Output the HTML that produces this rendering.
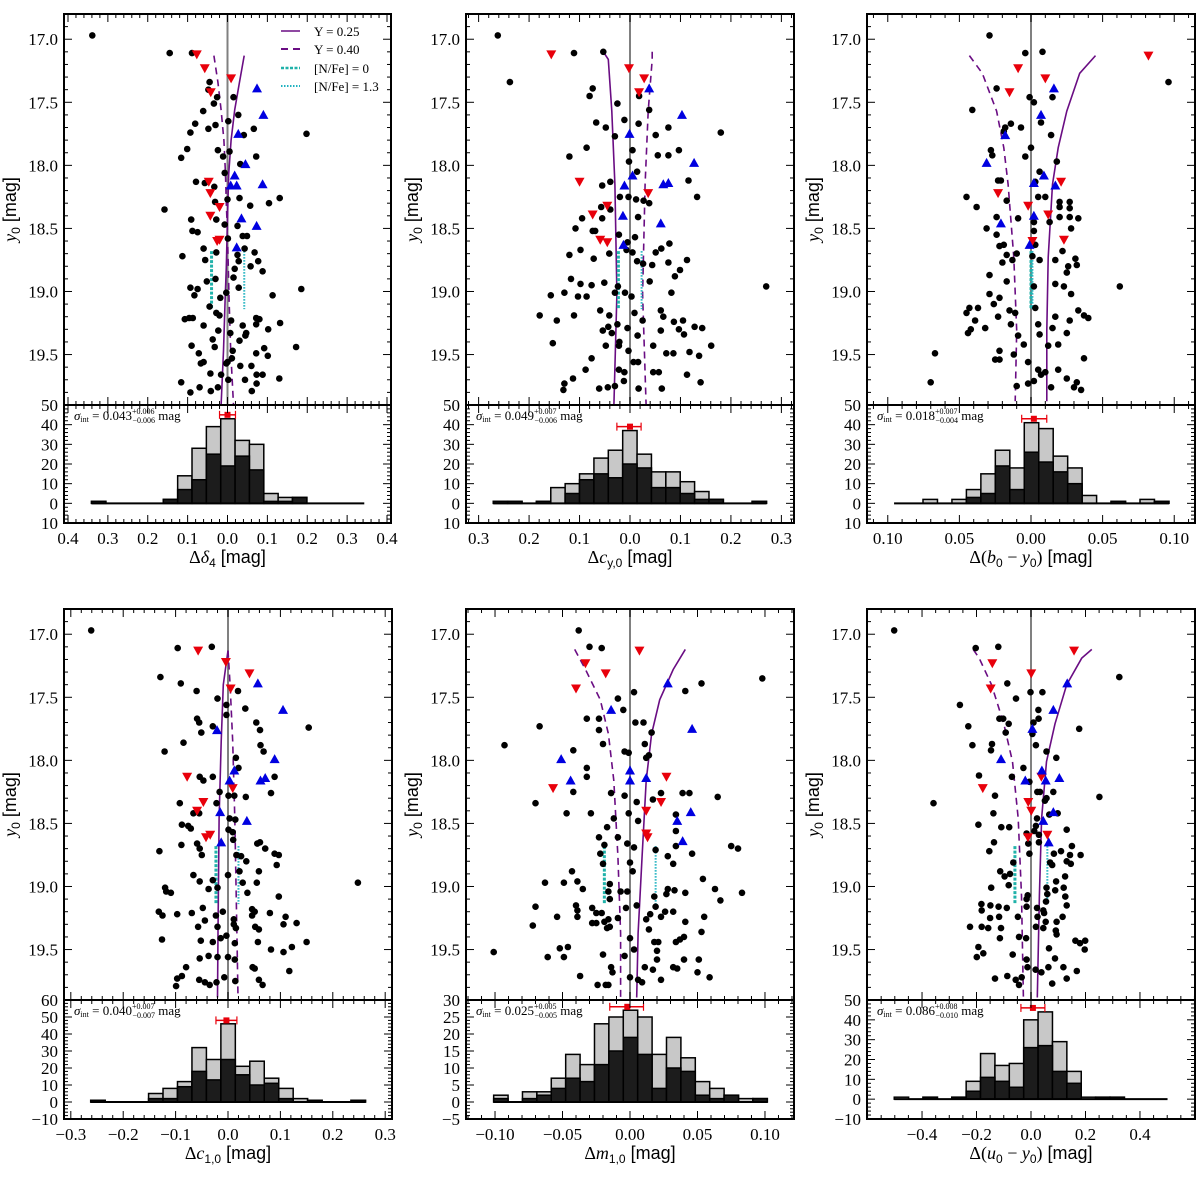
<!DOCTYPE html>
<html><head><meta charset="utf-8"><style>
html,body{margin:0;padding:0;background:#fff;}
svg{display:block;}
</style></head><body>
<svg id="fig" xmlns="http://www.w3.org/2000/svg" width="1200" height="1193" viewBox="0 0 1200 1193"></svg>
<script>
// ---------- DATA ----------
const yTickVals=[17.0,17.5,18.0,18.5,19.0,19.5];
const yTickLabels=["17.0","17.5","18.0","18.5","19.0","19.5"];
const modelLegend=["Y = 0.25","Y = 0.40","[N/Fe] = 0","[N/Fe] = 1.3"];

// Panel 1 (delta4)
const p1Dots=[-0.339,16.97,-0.145,17.11,-0.089,17.11,-0.045,17.34,-0.048,17.40,-0.026,17.46,-0.034,17.51,-0.061,17.57,-0.081,17.67,-0.048,17.71,-0.030,17.68,-0.093,17.74,-0.101,17.87,-0.116,17.94,-0.024,17.88,-0.011,17.93,0.002,17.65,0.015,17.46,0.027,17.60,0.041,17.76,0.066,17.71,0.072,17.93,0.032,17.99,0.005,17.89,-0.007,18.06,0.198,17.75,-0.079,18.13,-0.057,18.14,-0.033,18.17,0.0,18.27,0.030,18.26,0.057,18.32,0.104,18.30,0.131,18.26,-0.031,18.29,-0.158,18.35,-0.091,18.43,-0.088,18.52,-0.075,18.53,-0.028,18.43,-0.007,18.47,0.025,18.48,0.038,18.56,0.049,18.56,0.001,18.58,-0.06,18.66,-0.056,18.75,-0.113,18.72,-0.028,18.69,0.025,18.71,0.028,18.76,0.043,18.66,0.068,18.69,0.077,18.76,0.058,18.80,0.088,18.84,0.018,18.82,0.015,18.89,0.028,18.97,0.113,19.03,-0.093,18.97,-0.075,18.98,-0.083,19.03,-0.052,18.92,-0.030,18.90,-0.018,19.05,0.185,18.98,-0.003,19.01,
-0.096,19.21,-0.107,19.22,-0.087,19.21,-0.06,19.27,-0.028,19.17,-0.02,19.19,-0.023,19.31,-0.037,19.38,-0.045,19.12,0.009,19.23,0.038,19.27,0.047,19.33,0.072,19.21,0.08,19.22,0.072,19.26,0.102,19.30,0.132,19.25,0.101,19.51,0.072,19.49,0.092,19.45,0.045,19.35,0.03,19.39,0.007,19.33,0.011,19.53,0.032,19.59,0.06,19.59,0.073,19.66,0.088,19.66,0.044,19.70,-0.003,19.57,-0.016,19.66,-0.024,19.76,-0.042,19.79,-0.07,19.76,-0.093,19.80,-0.116,19.72,-0.043,19.65,-0.072,19.49,-0.09,19.43,-0.032,19.44,-0.067,19.57,-0.06,19.56,0.061,19.79,0.073,19.73,0.13,19.69,0.172,19.44,0,19.56,0.002,19.70,0.013,19.47];
const p1Red=[-0.077,17.12,-0.057,17.23,-0.042,17.42,0.009,17.31,-0.047,18.13,-0.043,18.22,-0.02,18.33,-0.043,18.40,-0.026,18.60,-0.02,18.59];
const p1Blue=[0.074,17.39,0.09,17.60,0.027,17.75,0.045,17.99,0.018,18.08,0.023,18.16,0.008,18.16,0.088,18.15,0.035,18.42,0.073,18.48,0.023,18.65];
const p1ModelY=[17.13,17.34,17.56,17.8,18.07,18.3,18.54,18.81,19.07,19.47,19.9];
const p1Y25=[0.042,0.03,0.018,0.009,0.003,0.001,-0.001,-0.003,-0.006,-0.01,-0.016];
const p1Y40=[-0.034,-0.024,-0.016,-0.009,-0.005,-0.003,0.0,0.002,0.004,0.008,0.015];
const p1Cyan=[-0.04,0.042];
const p1Gray=[1,0,0,0,0,2,14,28,39,43,32,30,5,3,3,0,0,0,0];
const p1Black=[1,0,0,0,0,2,7,12,25,19,24,17,1,1,3,0,0,0,0];
const p1Err=[0.0,45,-0.02,0.02];

// Panel 2 (cy0)
const p2Dots=[-0.262,16.97,-0.111,17.11,-0.053,17.10,-0.238,17.34,-0.074,17.39,-0.080,17.45,-0.025,17.51,0.018,17.45,0.038,17.56,-0.067,17.66,-0.048,17.70,-0.011,17.64,0.017,17.67,-0.030,17.77,0.051,17.76,0.076,17.70,0.180,17.74,-0.086,17.86,-0.120,17.93,0.005,17.88,0.055,17.92,0.076,17.92,0.097,17.88,-0.002,17.97,0.014,18.05,-0.039,18.13,-0.055,18.16,0.116,18.12,-0.020,18.25,-0.003,18.25,0.012,18.27,0.027,18.28,0.038,18.30,0.133,18.25,-0.057,18.33,-0.039,18.35,-0.095,18.42,-0.055,18.42,0.016,18.41,-0.074,18.52,-0.069,18.52,-0.108,18.50,-0.022,18.55,-0.005,18.61,0.010,18.57,0.078,18.62,-0.098,18.67,-0.120,18.71,-0.072,18.74,-0.041,18.70,-0.007,18.67,0.005,18.69,0.014,18.76,0.026,18.78,0.051,18.69,0.062,18.66,0.076,18.77,0.113,18.75,0.044,18.79,0.099,18.83,0.089,18.88,0.039,18.92,-0.117,18.90,-0.098,18.94,-0.076,18.95,-0.051,18.93,-0.024,18.96,-0.030,19.01,-0.010,19.01,0.003,19.04,0.082,19.01,-0.157,19.03,-0.130,19.01,-0.103,19.04,-0.086,19.04,-0.111,19.19,-0.059,19.15,-0.041,19.19,-0.179,19.19,-0.145,19.23,0.009,19.17,0.025,19.23,0.061,19.15,0.066,19.20,0.087,19.24,0.105,19.23,-0.043,19.28,-0.025,19.26,-0.054,19.31,-0.036,19.33,-0.021,19.40,-0.005,19.29,0.015,19.35,0.061,19.31,0.097,19.30,0.107,19.34,0.128,19.28,0.143,19.29,-0.153,19.41,-0.048,19.43,-0.022,19.43,-0.003,19.47,0.046,19.43,0.161,19.43,0.072,19.49,0.086,19.49,0.118,19.48,0.137,19.51,-0.076,19.53,0.007,19.56,0.016,19.56,-0.088,19.62,-0.022,19.62,-0.011,19.64,0.046,19.64,0.057,19.64,0.113,19.66,-0.113,19.69,-0.130,19.73,-0.132,19.78,-0.061,19.77,-0.044,19.76,-0.030,19.75,-0.012,19.71,0.017,19.77,0.063,19.77,0.140,19.72,0.270,18.96];
const p2Red=[-0.156,17.12,-0.002,17.23,0.028,17.31,0.018,17.42,-0.100,18.13,0.036,18.22,-0.045,18.32,-0.074,18.39,-0.059,18.59,-0.045,18.61];
const p2Blue=[0.038,17.39,0.103,17.60,-0.001,17.75,0.127,17.98,0.005,18.08,-0.011,18.16,0.066,18.15,0.076,18.14,-0.014,18.40,0.061,18.46,-0.013,18.63];
const p2ModelY=[17.10,17.16,17.57,18.15,19.02,19.90];
const p2Y25=[-0.053,-0.043,-0.036,-0.030,-0.026,-0.032];
const p2Y40=[0.044,0.044,0.036,0.030,0.025,0.032];
const p2Cyan=[-0.023,0.023];
const p2Gray=[1,1,0,1,8,10,15,23,27,37,25,16,16,11,6,2,0,0,1];
const p2Black=[1,1,0,1,0,5,12,15,13,20,18,8,8,5,2,2,0,0,1];
const p2Err=[0.0,39,-0.026,0.022];

// Panel 3 (b0-y0)
const p3Dots=[-0.029,16.97,-0.004,17.11,0.008,17.10,0.096,17.34,-0.024,17.39,-0.001,17.46,0.002,17.50,0.015,17.46,-0.041,17.56,-0.014,17.67,-0.007,17.70,-0.018,17.70,-0.019,17.73,0.007,17.66,0.014,17.76,0.0,17.86,-0.028,17.88,-0.027,17.92,-0.004,17.93,0.018,17.97,0.006,18.05,0.003,18.13,-0.023,18.12,-0.021,18.12,0.010,18.25,0.005,18.25,-0.045,18.25,-0.038,18.33,-0.017,18.28,0.020,18.29,0.027,18.29,0.020,18.33,0.027,18.34,-0.024,18.41,-0.024,18.55,-0.031,18.50,-0.009,18.42,0.002,18.45,0.002,18.52,0.013,18.45,0.020,18.41,0.027,18.41,0.033,18.42,0.028,18.50,-0.022,18.64,-0.019,18.63,0.003,18.63,0.022,18.68,-0.017,18.71,-0.010,18.70,0.001,18.72,0.017,18.75,0.031,18.74,0.032,18.79,-0.020,18.77,-0.013,18.75,0.006,18.75,0.026,18.80,0.025,18.85,-0.029,18.87,-0.017,18.92,0.002,18.96,0.017,18.94,0.023,18.96,0.028,19.02,-0.029,19.02,-0.026,19.10,-0.037,19.13,-0.022,19.05,0.003,19.13,-0.015,19.15,-0.011,19.17,0.017,19.20,0.027,19.23,0.033,19.15,0.037,19.19,0.040,19.21,-0.045,19.17,-0.043,19.13,-0.039,19.23,-0.023,19.20,-0.014,19.26,-0.044,19.33,-0.042,19.30,-0.032,19.29,0.005,19.26,0.006,19.34,0.015,19.29,0.025,19.33,0.019,19.42,-0.009,19.35,-0.005,19.42,0.012,19.43,-0.022,19.47,-0.022,19.54,-0.025,19.54,-0.012,19.50,-0.002,19.56,0.005,19.62,0.007,19.66,0.010,19.64,0.019,19.62,0.025,19.69,0.037,19.53,0.032,19.72,0.035,19.78,-0.010,19.75,-0.002,19.73,0.002,19.71,0.014,19.76,0.030,19.76,-0.070,19.72,-0.067,19.49,0.062,18.96];
const p3Red=[0.082,17.13,-0.009,17.23,0.010,17.31,-0.015,17.42,0.021,18.13,-0.023,18.22,-0.002,18.32,0.012,18.39,0.001,18.60,0.023,18.59];
const p3Blue=[0.016,17.39,0.007,17.60,-0.018,17.76,-0.031,17.98,0.009,18.08,0.002,18.14,0.017,18.16,0.002,18.40,-0.021,18.46,-0.001,18.63];
const p3ModelY=[17.13,17.27,17.57,17.86,18.15,18.73,19.31,19.87];
const p3Y25=[0.045,0.034,0.025,0.019,0.015,0.012,0.011,0.011];
const p3Y40=[-0.043,-0.034,-0.024,-0.019,-0.016,-0.012,-0.010,-0.011];
const p3Cyan=[0.0,0.001];
const p3Gray=[0,0,2,0,2,7,15,27,18,41,38,24,18,4,0,1,0,2,1];
const p3Black=[0,0,0,0,0,3,5,19,7,26,21,16,10,0,0,1,0,0,1];
const p3Err=[0.002,43,-0.0065,0.011];

// Panel 4 (c1,0)
const p4Dots=[-0.261,16.97,-0.096,17.11,-0.031,17.10,-0.129,17.34,-0.090,17.39,-0.060,17.45,-0.020,17.51,0.019,17.45,0.033,17.59,-0.059,17.67,-0.055,17.70,-0.051,17.78,-0.029,17.73,0.054,17.70,0.061,17.76,0.062,17.88,0.068,17.93,-0.085,17.86,-0.121,17.93,0.015,17.98,0.020,18.06,-0.003,17.56,-0.003,17.64,-0.054,18.13,-0.047,18.16,-0.029,18.13,0.089,18.13,0.082,18.26,-0.016,18.25,0.001,18.28,0.012,18.28,-0.092,18.34,-0.066,18.42,-0.055,18.42,-0.022,18.34,0.034,18.29,0.003,18.46,0.014,18.47,-0.088,18.51,-0.076,18.52,-0.071,18.54,0.001,18.55,0.009,18.57,0.010,18.63,-0.059,18.66,-0.054,18.70,-0.089,18.67,-0.131,18.72,-0.050,18.75,0.016,18.75,0.025,18.76,0.035,18.80,0.056,18.66,0.071,18.70,0.061,18.65,0.089,18.74,0.097,18.75,0.093,18.83,0.059,18.88,0.022,18.88,-0.066,18.91,-0.054,18.96,-0.037,19.02,-0.020,19.01,-0.029,18.95,0.0,18.91,0.028,18.97,0.055,18.97,0.037,19.05,0.097,19.08,-0.118,19.04,-0.109,19.05,-0.120,19.01,-0.097,19.22,-0.069,19.21,-0.048,19.17,-0.023,19.23,-0.010,19.20,0.011,19.26,0.046,19.18,0.051,19.20,0.046,19.23,0.080,19.21,0.110,19.24,0.131,19.29,-0.132,19.20,-0.125,19.23,-0.057,19.32,-0.044,19.27,-0.020,19.32,0.011,19.30,0.015,19.33,0.052,19.32,0.059,19.34,0.106,19.30,-0.126,19.42,-0.052,19.43,-0.029,19.44,-0.014,19.41,-0.003,19.39,0.013,19.45,0.057,19.44,0.082,19.50,0.106,19.52,0.122,19.48,0.150,19.44,-0.054,19.57,-0.037,19.55,-0.020,19.56,0.0,19.56,0.013,19.58,0.047,19.64,0.051,19.65,-0.080,19.64,-0.088,19.71,-0.097,19.73,-0.099,19.79,-0.055,19.74,-0.044,19.76,-0.035,19.78,-0.022,19.76,-0.007,19.72,0.014,19.75,0.059,19.74,0.066,19.78,0.117,19.67,0.248,18.97,0.154,17.74];
const p4Red=[-0.057,17.13,-0.004,17.22,0.041,17.31,0.005,17.43,-0.078,18.13,0.009,18.22,-0.047,18.33,-0.059,18.40,-0.034,18.59,-0.042,18.61];
const p4Blue=[0.057,17.39,0.105,17.60,-0.021,17.76,0.089,17.99,0.012,18.08,0.003,18.16,0.062,18.16,0.071,18.14,-0.015,18.41,0.036,18.48,-0.013,18.65];
const p4ModelY=[17.13,17.40,17.85,18.46,19.37,19.88];
const p4Y25=[0.0,-0.009,-0.013,-0.017,-0.019,-0.020];
const p4Y40=[0.0,0.004,0.009,0.013,0.017,0.019];
const p4Cyan=[-0.023,0.020];
const p4Gray=[1,0,0,0,5,8,12,32,25,46,21,24,14,8,2,1,0,0,1];
const p4Black=[1,0,0,0,2,2,9,18,13,25,16,10,11,2,0,1,0,0,1];
const p4Err=[-0.003,48,-0.023,0.017];

// Panel 5 (m1,0)
const p5Dots=[-0.038,16.97,-0.030,17.10,-0.021,17.11,-0.009,17.51,-0.005,17.60,-0.032,17.67,-0.023,17.67,-0.023,17.76,-0.020,17.87,-0.067,17.73,-0.093,17.88,-0.042,17.92,-0.004,17.93,-0.001,17.94,0.011,17.87,0.014,17.96,0.003,17.46,0.041,17.45,0.053,17.39,0.004,17.70,0.010,17.70,0.016,17.78,0.012,17.98,-0.042,18.25,-0.047,18.42,-0.070,18.34,-0.032,18.13,-0.032,18.06,-0.029,18.42,-0.014,18.26,-0.012,18.46,-0.004,18.28,-0.001,18.42,0.005,18.33,0.006,18.48,0.017,18.31,0.023,18.26,0.039,18.26,0.044,18.26,0.065,18.29,0.034,18.43,0.034,18.56,0.034,18.68,0.046,18.74,0.075,18.68,0.080,18.70,0.028,18.76,0.032,18.82,-0.017,18.53,-0.023,18.61,-0.019,18.67,-0.009,18.61,-0.002,18.66,0.003,18.69,-0.022,18.74,-0.020,18.82,-0.015,18.98,-0.016,19.04,-0.015,19.10,-0.007,19.04,-0.002,19.04,0.002,18.88,0.0,18.81,0.019,18.71,0.018,19.08,0.019,19.16,0.028,19.02,0.027,19.06,0.033,19.03,0.041,19.05,0.054,18.94,0.063,19.02,0.067,19.11,0.083,19.05,-0.043,18.88,-0.039,18.96,-0.035,19.02,-0.049,18.97,-0.063,18.97,-0.070,19.16,-0.040,19.15,-0.039,19.19,-0.039,19.24,-0.028,19.17,-0.025,19.21,-0.025,19.29,-0.021,19.21,-0.019,19.28,-0.017,19.33,-0.015,19.32,0.005,19.15,0.012,19.26,0.014,19.34,0.015,19.22,0.023,19.24,0.026,19.20,0.032,19.20,0.041,19.28,0.055,19.24,0.053,19.36,-0.054,19.24,-0.072,19.31,-0.028,19.29,-0.016,19.26,-0.009,19.25,-0.003,19.17,0.0,19.41,0.003,19.50,0.018,19.44,0.021,19.44,0.020,19.51,0.034,19.44,0.037,19.42,0.040,19.40,-0.052,19.49,-0.046,19.48,-0.049,19.56,-0.061,19.56,-0.101,19.52,-0.020,19.54,-0.004,19.55,0.020,19.58,0.040,19.58,0.051,19.58,-0.014,19.64,-0.013,19.68,0.011,19.64,0.017,19.66,0.023,19.74,0.032,19.64,0.035,19.65,0.050,19.68,0.059,19.72,-0.037,19.71,-0.024,19.78,-0.018,19.78,-0.016,19.78,0.0,19.72,0.006,19.74,0.009,19.76,0.098,17.35];
const p5Red=[0.007,17.13,-0.033,17.23,-0.018,17.31,-0.040,17.43,-0.057,18.22,0.027,18.13,0.023,18.33,0.012,18.40,0.012,18.58,0.013,18.61];
const p5Blue=[0.028,17.39,-0.014,17.60,0.046,17.75,-0.051,17.99,-0.044,18.16,0,18.08,0,18.16,0.012,18.14,0.045,18.41,0.035,18.48,0.039,18.64];
const p5ModelY=[17.12,17.28,17.52,17.79,18.16,18.76,19.37,19.88];
const p5Y25=[0.041,0.032,0.022,0.016,0.012,0.009,0.006,0.005];
const p5Y40=[-0.041,-0.033,-0.022,-0.016,-0.012,-0.009,-0.007,-0.007];
const p5Cyan=[-0.019,0.019];
const p5Gray=[2,0,3,3,7,14,11,23,25,27,25,14,19,13,6,4,2,1,1];
const p5Black=[1,0,1,2,4,7,6,11,15,19,14,4,10,9,2,1,2,0,1];
const p5Err=[-0.002,28,-0.015,0.01];

// Panel 6 (u0-y0)
const p6Dots=[-0.502,16.97,-0.203,17.11,-0.120,17.10,-0.087,17.39,-0.055,17.51,-0.261,17.56,-0.230,17.73,-0.215,17.88,-0.143,17.87,-0.147,17.92,-0.116,17.67,-0.102,17.67,-0.082,17.71,-0.093,17.78,-0.070,18.13,-0.191,18.12,-0.132,18.28,-0.138,18.42,-0.193,18.51,-0.109,18.53,-0.080,18.53,-0.136,18.65,-0.153,18.72,-0.358,18.34,-0.002,17.46,0.042,17.46,0.005,17.79,0.028,17.67,0.027,17.60,0.009,17.70,0.018,17.88,0.057,17.93,0.093,17.98,0.177,17.75,-0.028,18.06,-0.006,18.17,0.023,18.25,0.033,18.25,0.057,18.30,0.082,18.25,0.051,18.32,0.022,18.46,0.098,18.42,0.067,18.43,0.251,18.29,0.131,18.55,0.018,18.52,0.029,18.59,0.029,18.65,-0.010,18.66,-0.006,18.74,-0.016,18.58,0.012,18.56,0.084,18.74,0.070,18.81,0.110,18.72,0.078,18.83,0.131,18.80,0.146,18.82,0.150,18.68,0.182,18.75,0.143,18.75,0.125,18.92,0.120,19.01,0.126,19.08,0.131,19.15,0.092,18.96,0.089,19.03,0.057,19.01,0.060,19.06,0.055,19.12,0.045,19.19,0.022,19.17,0.024,19.24,0.048,19.21,0.054,19.28,0.094,19.28,0.091,19.35,0.094,19.38,0.116,19.24,-0.065,18.81,-0.077,18.90,-0.097,18.92,-0.082,18.99,-0.113,18.88,-0.146,19.01,-0.182,19.14,-0.181,19.19,-0.149,19.15,-0.119,19.16,-0.089,19.17,-0.117,19.24,-0.150,19.25,-0.181,19.32,-0.224,19.32,-0.157,19.33,-0.110,19.33,-0.048,19.24,-0.016,19.10,-0.016,19.16,-0.012,19.07,0.018,19.32,0.045,19.33,0.066,19.49,0.088,19.57,0.119,19.64,0.131,19.73,0.168,19.67,0.180,19.45,0.163,19.43,0.199,19.43,0.197,19.50,-0.067,19.54,-0.016,19.58,-0.013,19.64,0.017,19.66,0.038,19.68,0.064,19.64,-0.034,19.72,-0.056,19.74,-0.044,19.78,-0.132,19.73,-0.087,19.71,-0.044,19.40,-0.018,19.41,-0.193,19.48,-0.175,19.53,-0.199,19.56,0.078,19.77,0.324,17.34,-0.114,19.41];
const p6Red=[0.158,17.13,-0.142,17.23,0.001,17.31,-0.148,17.43,-0.177,18.22,0.038,18.13,-0.010,18.33,0.001,18.40,0.060,18.59,-0.011,18.61];
const p6Blue=[0.133,17.39,0.082,17.60,0.005,17.75,-0.110,17.99,0.040,18.08,-0.021,18.16,0.054,18.16,0.104,18.14,0.082,18.41,0.045,18.48,0.065,18.65];
const p6ModelY=[17.12,17.19,17.40,17.71,18.01,18.46,19.07,19.88];
const p6Y25=[0.223,0.186,0.131,0.088,0.057,0.039,0.031,0.023];
const p6Y40=[-0.212,-0.190,-0.145,-0.100,-0.068,-0.047,-0.035,-0.028];
const p6Cyan=[-0.059,0.060];
const p6Gray=[1,0,1,0,1,9,23,17,18,40,44,29,14,1,1,1,0,0,0];
const p6Black=[0,0,1,0,1,4,11,9,6,26,27,14,8,0,1,1,0,0,0];
const p6Err=[0.007,46,-0.037,0.051];

const cyanY=[18.68,19.14];

// ---------- DRAWING ----------
const NS="http://www.w3.org/2000/svg";
const svg=document.getElementById('fig');
function el(tag,attrs,parent){const e=document.createElementNS(NS,tag);for(const k in attrs)e.setAttribute(k,attrs[k]);(parent||svg).appendChild(e);return e;}

const panels=[
 {L:64,R:391,top:14,mid:405,bot:523,xmin:-0.41,xmax:0.41,xt:[-0.4,-0.3,-0.2,-0.1,0,0.1,0.2,0.3,0.4],xl:["0.4","0.3","0.2","0.1","0.0","0.1","0.2","0.3","0.4"],xm:0.02,
  hmin:-10,hmax:50,ht:[-10,0,10,20,30,40,50],hl:["10","0","10","20","30","40","50"],hm:2,
  dots:p1Dots,red:p1Red,blue:p1Blue,my:p1ModelY,y25:p1Y25,y40:p1Y40,cy:p1Cyan,bs:-0.341,bw:0.036,gray:p1Gray,black:p1Black,err:p1Err,
  sig:["0.043","+0.006","\u22120.006"],title:["Δ","δ","4"],legend:true,ylab:"y"},
 {L:466,R:794,top:14,mid:405,bot:523,xmin:-0.325,xmax:0.325,xt:[-0.3,-0.2,-0.1,0,0.1,0.2,0.3],xl:["0.3","0.2","0.1","0.0","0.1","0.2","0.3"],xm:0.02,
  hmin:-10,hmax:50,ht:[-10,0,10,20,30,40,50],hl:["10","0","10","20","30","40","50"],hm:2,
  dots:p2Dots,red:p2Red,blue:p2Blue,my:p2ModelY,y25:p2Y25,y40:p2Y40,cy:p2Cyan,bs:-0.271,bw:0.0285,gray:p2Gray,black:p2Black,err:p2Err,
  sig:["0.049","+0.007","\u22120.006"],title:["Δ","c","y,0"]},
 {L:867,R:1195,top:14,mid:405,bot:523,xmin:-0.1145,xmax:0.1145,xt:[-0.1,-0.05,0,0.05,0.1],xl:["0.10","0.05","0.00","0.05","0.10"],xm:0.01,
  hmin:-10,hmax:50,ht:[-10,0,10,20,30,40,50],hl:["10","0","10","20","30","40","50"],hm:2,
  dots:p3Dots,red:p3Red,blue:p3Blue,my:p3ModelY,y25:p3Y25,y40:p3Y40,cy:p3Cyan,bs:-0.0956,bw:0.0101,gray:p3Gray,black:p3Black,err:p3Err,
  sig:["0.018","+0.007","\u22120.004"],title:["Δ(","b","0","y"]},
 {L:64,R:392,top:609,mid:1000,bot:1119,xmin:-0.313,xmax:0.313,xt:[-0.3,-0.2,-0.1,0,0.1,0.2,0.3],xl:["\u22120.3","\u22120.2","\u22120.1","0.0","0.1","0.2","0.3"],xm:0.02,
  hmin:-10,hmax:60,ht:[-10,0,10,20,30,40,50,60],hl:["\u221210","0","10","20","30","40","50","60"],hm:2,
  dots:p4Dots,red:p4Red,blue:p4Blue,my:p4ModelY,y25:p4Y25,y40:p4Y40,cy:p4Cyan,bs:-0.262,bw:0.0276,gray:p4Gray,black:p4Black,err:p4Err,
  sig:["0.040","+0.007","\u22120.007"],title:["Δ","c","1,0"]},
 {L:466,R:794,top:609,mid:1000,bot:1119,xmin:-0.1215,xmax:0.1215,xt:[-0.1,-0.05,0,0.05,0.1],xl:["\u22120.10","\u22120.05","0.00","0.05","0.10"],xm:0.01,
  hmin:-5,hmax:30,ht:[-5,0,5,10,15,20,25,30],hl:["\u22125","0","5","10","15","20","25","30"],hm:1,
  dots:p5Dots,red:p5Red,blue:p5Blue,my:p5ModelY,y25:p5Y25,y40:p5Y40,cy:p5Cyan,bs:-0.101,bw:0.01067,gray:p5Gray,black:p5Black,err:p5Err,
  sig:["0.025","+0.005","\u22120.005"],title:["Δ","m","1,0"]},
 {L:867,R:1195,top:609,mid:1000,bot:1119,xmin:-0.602,xmax:0.602,xt:[-0.4,-0.2,0,0.2,0.4],xl:["\u22120.4","\u22120.2","0.0","0.2","0.4"],xm:0.05,
  hmin:-10,hmax:50,ht:[-10,0,10,20,30,40,50],hl:["\u221210","0","10","20","30","40","50"],hm:2,
  dots:p6Dots,red:p6Red,blue:p6Blue,my:p6ModelY,y25:p6Y25,y40:p6Y40,cy:p6Cyan,bs:-0.502,bw:0.0528,gray:p6Gray,black:p6Black,err:p6Err,
  sig:["0.086","+0.008","\u22120.010"],title:["Δ(","u","0","y"]}
];
const YMIN=16.80,YMAX=19.90;
const serif='"Liberation Serif", serif', sans='"Liberation Sans", sans-serif';

panels.forEach((p,i)=>{
  const g=el('g',{});
  
  
  const sx=v=>p.L+(v-p.xmin)/(p.xmax-p.xmin)*(p.R-p.L);
  const sy=v=>p.top+(v-YMIN)/(YMAX-YMIN)*(p.mid-p.top);
  const hy=v=>p.bot-(v-p.hmin)/(p.hmax-p.hmin)*(p.bot-p.mid);
  const cid='clip'+i, hid='hclip'+i;
  const cp=el('clipPath',{id:cid},g); el('rect',{x:p.L,y:p.top,width:p.R-p.L,height:p.mid-p.top},cp);
  const hp=el('clipPath',{id:hid},g); el('rect',{x:p.L,y:p.mid,width:p.R-p.L,height:p.bot-p.mid},hp);
  // scatter group
  const sc=el('g',{'clip-path':'url(#'+cid+')'},g);
  
  
  const zl=el('line',{x1:sx(0),x2:sx(0),y1:p.top,y2:p.mid,stroke:'#808080','stroke-width':2},sc);
  
  
  // model curves
  const pts=(xs)=>xs.map((x,k)=>sx(x).toFixed(1)+','+sy(p.my[k]).toFixed(1)).join(' ');
  const c25=el('polyline',{points:pts(p.y25),fill:'none',stroke:'#6a0d83','stroke-width':1.6},sc);
  
  
  const c40=el('polyline',{points:pts(p.y40),fill:'none',stroke:'#6a0d83','stroke-width':1.6,'stroke-dasharray':'7,5'},sc);
  
  
  const cy0=el('line',{x1:sx(p.cy[0]),x2:sx(p.cy[0]),y1:sy(cyanY[0]),y2:sy(cyanY[1]),stroke:'#20b2aa','stroke-width':3,'stroke-dasharray':'3,1.5'},sc);
  
  
  const cy1=el('line',{x1:sx(p.cy[1]),x2:sx(p.cy[1]),y1:sy(cyanY[0]),y2:sy(cyanY[1]),stroke:'#20b2c0','stroke-width':2,'stroke-dasharray':'1.5,1.5'},sc);
  
  
  for(let k=0;k<p.dots.length;k+=2){
    const c=el('circle',{cx:sx(p.dots[k]).toFixed(1),cy:sy(p.dots[k+1]).toFixed(1),r:3.3,fill:'#000'},sc);
    
    
  }
  for(let k=0;k<p.red.length;k+=2){
    const x=sx(p.red[k]),y=sy(p.red[k+1]);
    const t=el('polygon',{points:`${x-5},${y-4} ${x+5},${y-4} ${x},${y+5}`,fill:'#e8000b'},sc);
    
    
  }
  for(let k=0;k<p.blue.length;k+=2){
    const x=sx(p.blue[k]),y=sy(p.blue[k+1]);
    const t=el('polygon',{points:`${x-5},${y+4} ${x+5},${y+4} ${x},${y-5}`,fill:'#0000e0'},sc);
    
    
  }
  // histogram
  const hg=el('g',{'clip-path':'url(#'+hid+')'},g);
  
  
  [[p.gray,'#c8c8c8','hist-bar-total'],[p.black,'#1c1c1c','hist-bar-subset']].forEach(([arr,col,nm])=>{
    arr.forEach((v,k)=>{
      if(v<=0)return;
      const x0=sx(p.bs+k*p.bw),x1=sx(p.bs+(k+1)*p.bw);
      const r=el('rect',{x:x0,y:hy(v),width:x1-x0,height:hy(0)-hy(v),fill:col,stroke:'#000','stroke-width':1.5},hg);
      
      
    });
  });
  const bl=el('line',{x1:sx(p.bs),x2:sx(p.bs+p.gray.length*p.bw),y1:hy(0),y2:hy(0),stroke:'#000','stroke-width':2},hg);
  
  
  // error bar
  const eb=el('g',{},g);
  
  
  const ey=hy(p.err[1]);
  el('line',{x1:sx(p.err[2]),x2:sx(p.err[3]),y1:ey,y2:ey,stroke:'#e8000b','stroke-width':1.5},eb);
  el('line',{x1:sx(p.err[2]),x2:sx(p.err[2]),y1:ey-4,y2:ey+4,stroke:'#e8000b','stroke-width':1.2},eb);
  el('line',{x1:sx(p.err[3]),x2:sx(p.err[3]),y1:ey-4,y2:ey+4,stroke:'#e8000b','stroke-width':1.2},eb);
  el('rect',{x:sx(p.err[0])-3,y:ey-3,width:6,height:6,fill:'#e8000b'},eb);
  // sigma text
  const st=el('text',{x:p.L+10,y:p.mid+15,'font-family':serif,'font-size':13,fill:'#000'},g);
  
  
  st.innerHTML=`<tspan font-style="italic">σ</tspan><tspan font-size="8" dy="2">int</tspan><tspan dy="-2"> = ${p.sig[0]}</tspan><tspan font-size="8" dy="-6">${p.sig[1]}</tspan><tspan font-size="8" dx="-22" dy="9">${p.sig[2]}</tspan><tspan dy="-3"> mag</tspan>`;
  // frames
  const fr=el('rect',{x:p.L,y:p.top,width:p.R-p.L,height:p.bot-p.top,fill:'none',stroke:'#000','stroke-width':2},g);
  
  
  el('line',{x1:p.L,x2:p.R,y1:p.mid,y2:p.mid,stroke:'#000','stroke-width':2},g);
  // ticks
  const tk=el('g',{stroke:'#000','stroke-width':1},g);
  
  
  const n0=Math.ceil(p.xmin/p.xm-1e-6), n1=Math.floor(p.xmax/p.xm+1e-6);
  for(let n=n0;n<=n1;n++){
    const v=n*p.xm, x=sx(v);
    const major=p.xt.some(t=>Math.abs(t-v)<1e-6);
    const len=major?8:4;
    [p.top,p.mid,p.bot].forEach(yy=>{
      if(yy!==p.top) el('line',{x1:x,x2:x,y1:yy,y2:yy-len},tk);
      if(yy!==p.bot) el('line',{x1:x,x2:x,y1:yy,y2:yy+len},tk);
    });
  }
  for(let v=16.8;v<=19.9001;v+=0.1){
    const y=sy(v), major=yTickVals.some(t=>Math.abs(t-v)<1e-6), len=major?8:4;
    el('line',{x1:p.L,x2:p.L+len,y1:y,y2:y},tk); el('line',{x1:p.R,x2:p.R-len,y1:y,y2:y},tk);
  }
  for(let v=p.hmin;v<=p.hmax;v+=p.hm){
    const y=hy(v), major=p.ht.includes(v), len=major?8:4;
    el('line',{x1:p.L,x2:p.L+len,y1:y,y2:y},tk); el('line',{x1:p.R,x2:p.R-len,y1:y,y2:y},tk);
  }
  // tick labels
  yTickVals.forEach((v,k)=>{
    const t=el('text',{x:p.L-6,y:sy(v)+6,'text-anchor':'end','font-family':serif,'font-size':17},g);
    t.textContent=yTickLabels[k];
    
    
  });
  p.ht.forEach((v,k)=>{
    const t=el('text',{x:p.L-6,y:hy(v)+6,'text-anchor':'end','font-family':serif,'font-size':17},g);
    t.textContent=p.hl[k];
    
    
  });
  p.xt.forEach((v,k)=>{
    const t=el('text',{x:sx(v),y:p.bot+21,'text-anchor':'middle','font-family':serif,'font-size':17},g);
    t.textContent=p.xl[k];
    
    
  });
  // titles
  const xt=el('text',{x:(p.L+p.R)/2,y:p.bot+40,'text-anchor':'middle','font-family':sans,'font-size':18},g);
  
  
  if(p.title.length===3){
    xt.innerHTML=`<tspan font-family='"Liberation Serif",serif'>${p.title[0]}</tspan><tspan font-family='"Liberation Serif",serif' font-style="italic">${p.title[1]}</tspan><tspan font-size="12" dy="4">${p.title[2]}</tspan><tspan dy="-4"> [mag]</tspan>`;
  } else {
    xt.innerHTML=`<tspan font-family='"Liberation Serif",serif'>Δ(</tspan><tspan font-family='"Liberation Serif",serif' font-style="italic">${p.title[1]}</tspan><tspan font-size="12" dy="4">0</tspan><tspan dy="-4" font-family='"Liberation Serif",serif'> − </tspan><tspan font-family='"Liberation Serif",serif' font-style="italic">y</tspan><tspan font-size="12" dy="4">0</tspan><tspan dy="-4" font-family='"Liberation Serif",serif'>)</tspan><tspan> [mag]</tspan>`;
  }
  const ymid=(p.top+p.mid)/2;
  const yt=el('text',{x:0,y:0,transform:`translate(${p.L-48},${ymid}) rotate(-90)`,'text-anchor':'middle','font-family':sans,'font-size':18},g);
  
  
  yt.innerHTML=`<tspan font-family='"Liberation Serif",serif' font-style="italic">y</tspan><tspan font-size="12" dy="4">0</tspan><tspan dy="-4"> [mag]</tspan>`;
  // legend
  if(p.legend){
    const lg=el('g',{},g);
    
    
    const ys=[31,49,68,86];
    const styles=[{stroke:'#6a0d83','stroke-width':1.6},{stroke:'#6a0d83','stroke-width':2,'stroke-dasharray':'7,5'},{stroke:'#20b2aa','stroke-width':2.5,'stroke-dasharray':'3,1.5'},{stroke:'#20b2c0','stroke-width':2,'stroke-dasharray':'1.5,1.5'}];
    ys.forEach((y,k)=>{
      const e=el('g',{},lg);
      
      
      el('line',Object.assign({x1:281,x2:300,y1:y,y2:y},styles[k]),e);
      const t=el('text',{x:314,y:y+5,'font-family':serif,'font-size':13},e);
      t.textContent=modelLegend[k];
    });
  }
});
</script>
</body></html>
